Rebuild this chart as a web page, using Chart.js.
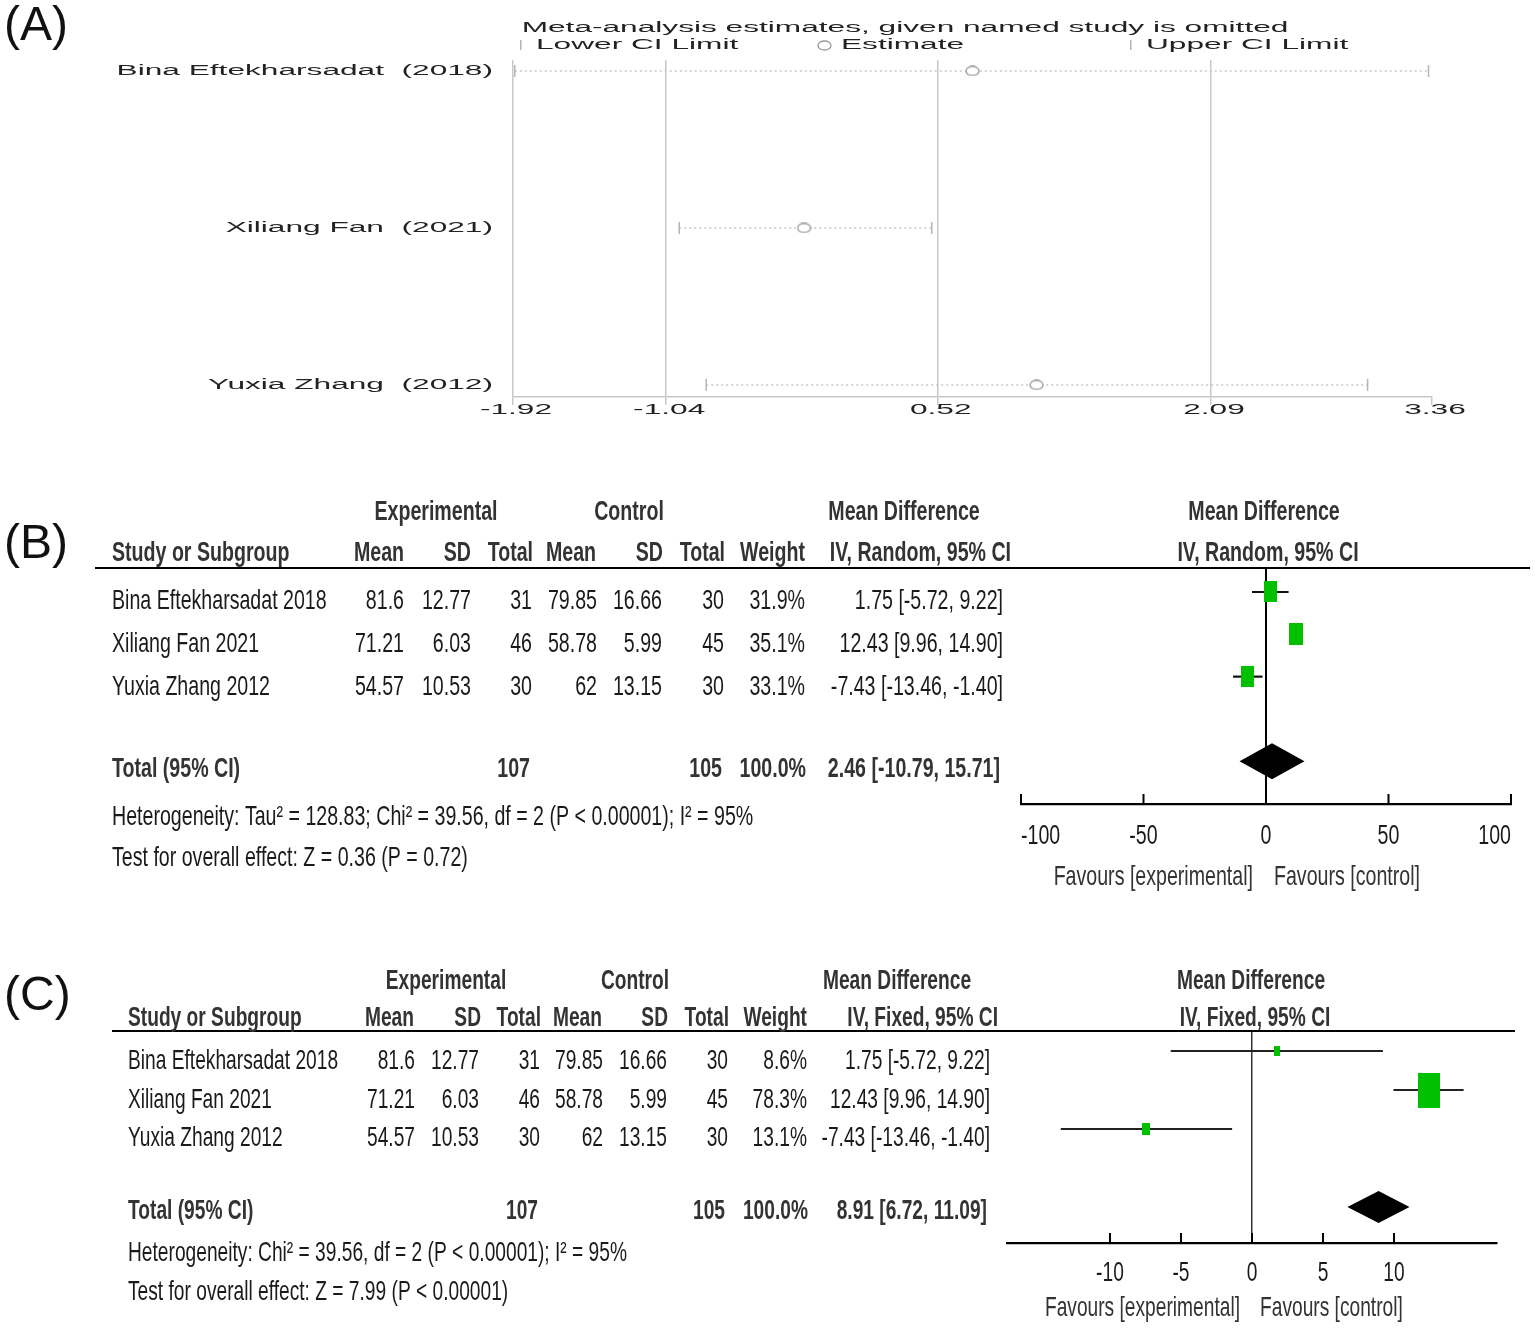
<!DOCTYPE html>
<html>
<head>
<meta charset="utf-8">
<script src="https://cdn.jsdelivr.net/npm/chart.js@4.4.0/dist/chart.umd.min.js"></script>
<style>
  html, body { margin: 0; padding: 0; background: #fff; }
  #wrap { position: relative; width: 1535px; height: 1329px; overflow: hidden; }
  #wrap canvas { position: absolute; left: 0; }
</style>
</head>
<body>
<div id="wrap">
  <canvas id="chartA" width="1535" height="440" style="top:0px"></canvas>
  <canvas id="chartB" width="1535" height="440" style="top:480px"></canvas>
  <canvas id="chartC" width="1535" height="379" style="top:950px"></canvas>
</div>
<script>
// ---- data ----
const studies = ['Bina Eftekharsadat 2018', 'Xiliang Fan 2021', 'Yuxia Zhang 2012'];
const studyLabelsA = ['Bina Eftekharsadat  (2018)', 'Xiliang Fan  (2021)', 'Yuxia Zhang  (2012)'];

// (A) leave-one-out estimates
const omitEstimate = [0.72, -0.248, 1.088];
const omitLower = [-1.91, -0.965, -0.81];
const omitUpper = [3.34, 0.486, 2.99];
const ticksA = [-1.92, -1.04, 0.52, 2.09, 3.36];

// (B) / (C) study table
const expMean = [81.6, 71.21, 54.57];
const expSD = [12.77, 6.03, 10.53];
const expTotal = [31, 46, 30];
const ctlMean = [79.85, 58.78, 62];
const ctlSD = [16.66, 5.99, 13.15];
const ctlTotal = [30, 45, 30];
const meanDiff = [1.75, 12.43, -7.43];
const ciLow = [-5.72, 9.96, -13.46];
const ciHigh = [9.22, 14.90, -1.40];
const weightRandom = [31.9, 35.1, 33.1];
const weightFixed = [8.6, 78.3, 13.1];
const totalWeight = 100.0;
// pooled: estimate, lower, upper
const totalRandom = [2.46, -10.79, 15.71];
const totalFixed = [8.91, 6.72, 11.09];
const ticksB = [-100, -50, 0, 50, 100];
const ticksC = [-10, -5, 0, 5, 10];

const hetRandom = 'Heterogeneity: Tau² = 128.83; Chi² = 39.56, df = 2 (P < 0.00001); I² = 95%';
const testRandom = 'Test for overall effect: Z = 0.36 (P = 0.72)';
const hetFixed = 'Heterogeneity: Chi² = 39.56, df = 2 (P < 0.00001); I² = 95%';
const testFixed = 'Test for overall effect: Z = 7.99 (P < 0.00001)';

const FONT = 'Arial, "Liberation Sans", sans-serif';
const GREEN = '#00c000';

// draw text with a horizontal stretch (the figure text is squeezed / widened)
function drawText(ctx, s, x, y, o) {
  ctx.save();
  ctx.font = o.font;
  ctx.fillStyle = o.color || '#1a1a1a';
  ctx.textAlign = o.align || 'left';
  ctx.textBaseline = 'middle';
  ctx.translate(x, y);
  ctx.scale(o.sx || 1, 1);
  ctx.fillText(s, 0, 0);
  ctx.restore();
}

function boxImage(w, h, color) {
  const c = document.createElement('canvas');
  c.width = Math.max(2, Math.round(w));
  c.height = Math.max(2, Math.round(h));
  const g = c.getContext('2d');
  g.fillStyle = color;
  g.fillRect(0, 0, c.width, c.height);
  return c;
}

function ellipseImage(w, h) {
  const c = document.createElement('canvas');
  c.width = w; c.height = h;
  const g = c.getContext('2d');
  g.strokeStyle = '#9a9a9a';
  g.lineWidth = 1.3;
  g.fillStyle = '#fff';
  g.beginPath();
  g.ellipse(w / 2, h / 2, w / 2 - 1, h / 2 - 1, 0, 0, Math.PI * 2);
  g.fill();
  g.stroke();
  return c;
}

const sum = arr => arr.reduce((a, b) => a + b, 0);
const fmtCI = (e, l, h) => e.toFixed(2) + ' [' + l.toFixed(2) + ', ' + h.toFixed(2) + ']';

// ---------------- (A) sensitivity plot ----------------
const ovalA = ellipseImage(15, 11);
const dsA = [];
studyLabelsA.forEach((s, i) => {
  dsA.push({
    data: [{ x: omitLower[i], y: i + 1 }, { x: omitUpper[i], y: i + 1 }],
    showLine: true, borderColor: '#c8c8c8', borderWidth: 1.5, borderDash: [2, 3],
    pointRadius: 0, order: 2
  });
});
dsA.push({
  data: omitLower.map((v, i) => ({ x: v, y: i + 1 })).concat(omitUpper.map((v, i) => ({ x: v, y: i + 1 }))),
  pointStyle: 'line', pointRotation: 90, pointRadius: 6,
  borderColor: '#b4b4b4', pointBorderWidth: 1.5, order: 1
});
dsA.push({
  data: omitEstimate.map((v, i) => ({ x: v, y: i + 1 })),
  pointStyle: ovalA, order: 0
});

const panelAText = {
  id: 'panelAText',
  afterDraw(chart) {
    const ctx = chart.ctx;
    const xs = chart.scales.x, ys = chart.scales.y;
    const f = '14px ' + FONT, sx = 2.26, col = '#222';
    drawText(ctx, '(A)', 4, 27, { font: '48px ' + FONT, color: '#111' });
    drawText(ctx, 'Meta-analysis estimates, given named study is omitted', 905, 28, { font: f, sx, color: col, align: 'center' });
    // legend
    ctx.fillStyle = '#b4b4b4';
    ctx.fillRect(520, 40, 1.5, 10);
    ctx.fillRect(1130, 40, 1.5, 10);
    ctx.drawImage(ovalA, 817, 40);
    drawText(ctx, 'Lower CI Limit', 536, 45, { font: f, sx, color: col });
    drawText(ctx, 'Estimate', 841, 45, { font: f, sx, color: col });
    drawText(ctx, 'Upper CI Limit', 1146, 45, { font: f, sx, color: col });
    studyLabelsA.forEach((s, i) => {
      drawText(ctx, s, 493, ys.getPixelForValue(i + 1), { font: f, sx, color: col, align: 'right' });
    });
    ticksA.forEach(t => {
      drawText(ctx, t.toFixed(2), xs.getPixelForValue(t) + 3, 410, { font: f, sx, color: col, align: 'center' });
    });
  }
};

new Chart(document.getElementById('chartA'), {
  type: 'scatter',
  data: { datasets: dsA },
  options: {
    responsive: false, animation: false, devicePixelRatio: 1,
    layout: { padding: { left: 513, right: 103, top: 60, bottom: 35 } },
    plugins: { legend: { display: false }, tooltip: { enabled: false } },
    scales: {
      x: {
        type: 'linear', min: -1.92, max: 3.36,
        afterBuildTicks: s => { s.ticks = ticksA.map(v => ({ value: v })); },
        ticks: { display: false },
        grid: {
          color: c => (c.tick && c.tick.value === 3.36) ? 'rgba(0,0,0,0)' : '#c8c8c8',
          lineWidth: 1.5, drawTicks: true, tickLength: 8, tickColor: '#c8c8c8', tickWidth: 1.5
        },
        border: { display: true, color: '#c8c8c8', width: 1.5 }
      },
      y: { display: false, reverse: true, min: 0.93, max: 3.077 }
    }
  },
  plugins: [panelAText]
});

// ---------------- (B) and (C) forest plots ----------------
function forestChart(id, cfg) {
  const sizeOf = w => 1.68 * Math.pow(w, 0.59);
  const datasets = [];
  datasets.push({
    data: meanDiff.map((v, i) => ({ x: v, y: i + 1 })),
    pointStyle: cfg.weights.map(w => boxImage(sizeOf(w), sizeOf(w) * 1.6, GREEN)),
    order: 0
  });
  meanDiff.forEach((v, i) => {
    datasets.push({
      data: [{ x: ciLow[i], y: i + 1 }, { x: ciHigh[i], y: i + 1 }],
      showLine: true, borderColor: cfg.ciColor, borderWidth: 2.2, pointRadius: 0, order: 1
    });
  });

  const top = cfg.top;
  const L = cfg.layout;
  const tablePlugin = {
    id: 'table' + id,
    afterDatasetsDraw(chart) {
      const ctx = chart.ctx;
      const xs = chart.scales.x, ys = chart.scales.y;
      // pooled diamond
      const [est, lo, hi] = cfg.total;
      const yc = ys.getPixelForValue(5);
      ctx.save();
      ctx.fillStyle = '#000';
      ctx.beginPath();
      ctx.moveTo(xs.getPixelForValue(lo), yc);
      ctx.lineTo(xs.getPixelForValue(est), yc - cfg.diamondH);
      ctx.lineTo(xs.getPixelForValue(hi), yc);
      ctx.lineTo(xs.getPixelForValue(est), yc + cfg.diamondH);
      ctx.closePath();
      ctx.fill();
      ctx.restore();
    },
    afterDraw(chart) {
      const ctx = chart.ctx;
      const xs = chart.scales.x;
      const yAxis = chart.chartArea.bottom;
      const f = '28px ' + FONT, fb = 'bold 28px ' + FONT;
      const sx = cfg.sx, sxb = cfg.sx;
      const hc = '#333', tc = '#1a1a1a';
      const Y = v => v - top;

      drawText(ctx, cfg.tag, 4, Y(L.tagY), { font: '48px ' + FONT, color: '#111' });

      // header line
      ctx.fillStyle = '#000';
      ctx.fillRect(L.lineX0, Y(L.lineY) - 1, L.lineX1 - L.lineX0, 2);

      // header rows
      const h1 = ['Experimental', 'Control', 'Mean Difference', 'Mean Difference'];
      h1.forEach((s, i) => drawText(ctx, s, L.h1x[i], Y(L.h1y), { font: fb, sx: sxb, color: hc, align: 'center' }));
      drawText(ctx, 'Study or Subgroup', L.nameX, Y(L.h2y), { font: fb, sx: sxb, color: hc });
      const h2 = ['Mean', 'SD', 'Total', 'Mean', 'SD', 'Total', 'Weight', cfg.method];
      h2.forEach((s, i) => drawText(ctx, s, L.h2x[i], Y(L.h2y), { font: fb, sx: sxb, color: hc, align: 'right' }));
      drawText(ctx, cfg.method, L.forestHeadX, Y(L.h2y), { font: fb, sx: sxb, color: hc, align: 'center' });

      // study rows
      studies.forEach((s, i) => {
        const y = Y(L.rowY[i]);
        drawText(ctx, s, L.nameX, y, { font: f, sx, color: tc });
        const cells = [String(expMean[i]), expSD[i].toFixed(2), String(expTotal[i]),
          String(ctlMean[i]), ctlSD[i].toFixed(2), String(ctlTotal[i]),
          cfg.weights[i].toFixed(1) + '%', fmtCI(meanDiff[i], ciLow[i], ciHigh[i])];
        cells.forEach((c, j) => drawText(ctx, c, L.colX[j], y, { font: f, sx, color: tc, align: 'right' }));
      });

      // total row
      const ty = Y(L.totalY);
      drawText(ctx, 'Total (95% CI)', L.nameX, ty, { font: fb, sx: sxb, color: hc });
      drawText(ctx, String(sum(expTotal)), L.totX[0], ty, { font: fb, sx: sxb, color: hc, align: 'right' });
      drawText(ctx, String(sum(ctlTotal)), L.totX[1], ty, { font: fb, sx: sxb, color: hc, align: 'right' });
      drawText(ctx, totalWeight.toFixed(1) + '%', L.totX[2], ty, { font: fb, sx: sxb, color: hc, align: 'right' });
      drawText(ctx, fmtCI(cfg.total[0], cfg.total[1], cfg.total[2]), L.totX[3], ty, { font: fb, sx: sxb, color: hc, align: 'right' });

      drawText(ctx, cfg.het, L.nameX, Y(L.hetY), { font: f, sx, color: tc });
      drawText(ctx, cfg.test, L.nameX, Y(L.testY), { font: f, sx, color: tc });

      // axis ticks (pointing up) and labels
      ctx.fillStyle = '#000';
      const n = cfg.ticks.length;
      cfg.ticks.forEach((t, k) => {
        const x = xs.getPixelForValue(t);
        ctx.fillRect(x - 1, yAxis - 10, 2, 10);
        let align = 'center';
        if (cfg.edgeAlign && k === 0) align = 'left';
        if (cfg.edgeAlign && k === n - 1) align = 'right';
        drawText(ctx, String(t), x, Y(L.tickLabelY), { font: f, sx, color: tc, align });
      });
      drawText(ctx, 'Favours [experimental]', L.favL, Y(L.favY), { font: f, sx, color: '#333', align: 'right' });
      drawText(ctx, 'Favours [control]', L.favR, Y(L.favY), { font: f, sx, color: '#333' });
    }
  };

  return new Chart(document.getElementById(id), {
    type: 'scatter',
    data: { datasets },
    options: {
      responsive: false, animation: false, devicePixelRatio: 1,
      layout: { padding: cfg.padding },
      plugins: { legend: { display: false }, tooltip: { enabled: false } },
      scales: {
        x: {
          type: 'linear', min: cfg.xMin, max: cfg.xMax,
          afterBuildTicks: s => { s.ticks = cfg.ticks.map(v => ({ value: v })); },
          ticks: { display: false },
          grid: {
            color: c => (c.tick && c.tick.value === 0) ? cfg.zeroColor : 'rgba(0,0,0,0)',
            lineWidth: cfg.zeroWidth, drawTicks: false
          },
          border: { display: true, color: '#000', width: 2.2 }
        },
        y: { display: false, reverse: true, min: cfg.yMin, max: cfg.yMax }
      }
    },
    plugins: [tablePlugin]
  });
}

forestChart('chartB', {
  tag: '(B)', top: 480, method: 'IV, Random, 95% CI', sx: 0.70, edgeAlign: true,
  weights: weightRandom, total: totalRandom, het: hetRandom, test: testRandom,
  ticks: ticksB, xMin: -100, xMax: 100, yMin: 0.433, yMax: 6.01,
  padding: { left: 1021, right: 24, top: 88, bottom: 116 },
  ciColor: '#111', zeroColor: '#000', zeroWidth: 2, diamondH: 18,
  layout: {
    tagY: 545, lineY: 568, lineX0: 95, lineX1: 1530,
    h1y: 512, h1x: [436, 629, 904, 1264],
    h2y: 553, h2x: [404, 471, 533, 596, 663, 725, 805, 1011], forestHeadX: 1268,
    nameX: 112, rowY: [601, 644, 687],
    colX: [404, 471, 532, 597, 662, 724, 805, 1003],
    totalY: 769, totX: [530, 722, 806, 1000],
    hetY: 817, testY: 858, tickLabelY: 836, favY: 877, favL: 1253, favR: 1274
  }
});

forestChart('chartC', {
  tag: '(C)', top: 950, method: 'IV, Fixed, 95% CI', sx: 0.685, edgeAlign: false,
  weights: weightFixed, total: totalFixed, het: hetFixed, test: testFixed,
  ticks: ticksC, xMin: -17.25, xMax: 17.25, yMin: 0.487, yMax: 5.923,
  padding: { left: 1007, right: 38, top: 81, bottom: 86 },
  ciColor: '#222', zeroColor: '#333', zeroWidth: 1.5, diamondH: 16,
  layout: {
    tagY: 997, lineY: 1031, lineX0: 112, lineX1: 1515,
    h1y: 981, h1x: [446, 635, 897, 1251],
    h2y: 1018, h2x: [414, 481, 541, 602, 668, 729, 807, 998], forestHeadX: 1255,
    nameX: 128, rowY: [1061, 1100, 1138],
    colX: [415, 479, 540, 603, 667, 728, 807, 990],
    totalY: 1211, totX: [538, 725, 808, 987],
    hetY: 1253, testY: 1292, tickLabelY: 1273, favY: 1308, favL: 1240, favR: 1260
  }
});
</script>
</body>
</html>
